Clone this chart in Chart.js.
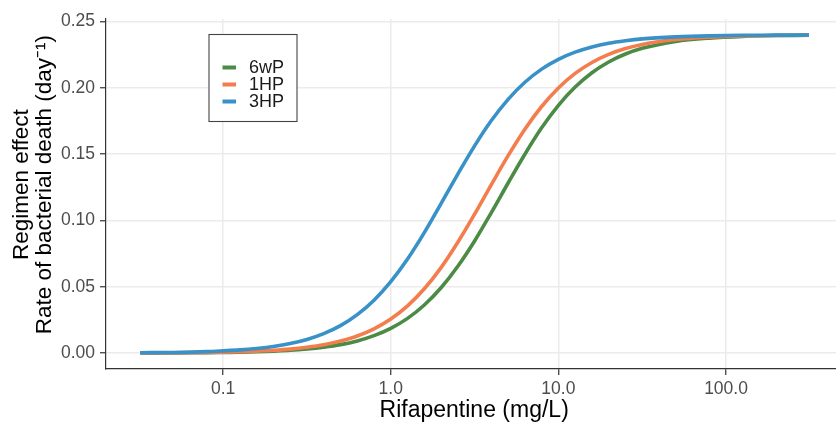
<!DOCTYPE html>
<html>
<head>
<meta charset="utf-8">
<script src="https://cdn.jsdelivr.net/npm/chart.js@4/dist/chart.umd.min.js"></script>
<style>
  html, body { margin: 0; padding: 0; background: #ffffff; }
  #wrap { width: 836px; height: 424px; position: relative; overflow: hidden; }
</style>
</head>
<body>
<div id="wrap"><canvas id="c" width="836" height="424"></canvas></div>
<script>
// ---- data ----
const conc = [0.032, 0.0501, 0.0794, 0.1, 0.1259, 0.1585, 0.1995, 0.2512, 0.3162, 0.3981, 0.5012, 0.631, 0.7943, 1.0, 1.259, 1.585, 1.995, 2.512, 3.162, 3.981, 5.012, 6.31, 7.943, 10.0, 12.59, 15.85, 19.95, 25.12, 31.62, 50.12, 79.43, 125.9, 199.5, 312.6];
const effect6wP = [0.0001, 0.0002, 0.0003, 0.0005, 0.0007, 0.0010, 0.0015, 0.0021, 0.0031, 0.0045, 0.0064, 0.0092, 0.0132, 0.0187, 0.0262, 0.0363, 0.0493, 0.0655, 0.0846, 0.1060, 0.1283, 0.1500, 0.1699, 0.1869, 0.2007, 0.2115, 0.2196, 0.2256, 0.2299, 0.2351, 0.2376, 0.2389, 0.2395, 0.2397];
const effect1HP = [0.0001, 0.0002, 0.0005, 0.0007, 0.0010, 0.0015, 0.0021, 0.0030, 0.0044, 0.0063, 0.0091, 0.0129, 0.0183, 0.0257, 0.0356, 0.0485, 0.0645, 0.0836, 0.1048, 0.1271, 0.1489, 0.1689, 0.1860, 0.2000, 0.2110, 0.2192, 0.2253, 0.2297, 0.2328, 0.2365, 0.2383, 0.2392, 0.2396, 0.2398];
const effect3HP = [0.0003, 0.0005, 0.0011, 0.0017, 0.0024, 0.0035, 0.0050, 0.0072, 0.0103, 0.0147, 0.0207, 0.0290, 0.0399, 0.0539, 0.0710, 0.0909, 0.1128, 0.1350, 0.1563, 0.1754, 0.1914, 0.2043, 0.2142, 0.2216, 0.2270, 0.2309, 0.2337, 0.2356, 0.2370, 0.2385, 0.2393, 0.2397, 0.2398, 0.2399];
const seriesNames = ['6wP', '1HP', '3HP'];
const xTicks = [0.1, 1, 10, 100];
const xTickLabels = ['0.1', '1.0', '10.0', '100.0'];
const yTicks = [0, 0.05, 0.10, 0.15, 0.20, 0.25];
const yTickLabels = ['0.00', '0.05', '0.10', '0.15', '0.20', '0.25'];

const colors = ['#4b8b45', '#f47d4d', '#3891c7'];
const seriesValues = [effect6wP, effect1HP, effect3HP];

Chart.defaults.font.family = '"Liberation Sans", Arial, Helvetica, sans-serif';

const datasets = seriesValues.map((vals, i) => ({
  label: seriesNames[i],
  data: conc.map((c, k) => ({ x: c, y: vals[k] })),
  borderColor: colors[i],
  backgroundColor: colors[i],
  borderWidth: 3.6,
  pointRadius: 0,
  fill: false,
  cubicInterpolationMode: 'monotone',
  order: 2 - i
}));

const boxLegend = {
  id: 'boxLegend',
  afterDraw(chart) {
    const ctx = chart.ctx;
    const a = chart.chartArea;
    const bx = a.left + 103, by = a.top + 15.5, bw = 88, bh = 87;
    ctx.save();
    ctx.fillStyle = '#ffffff';
    ctx.fillRect(bx, by, bw, bh);
    ctx.strokeStyle = '#444444';
    ctx.lineWidth = 1.1;
    ctx.strokeRect(bx, by, bw, bh);
    ctx.font = '18px "Liberation Sans", Arial, sans-serif';
    ctx.textBaseline = 'middle';
    ctx.textAlign = 'left';
    chart.data.datasets.forEach((ds, i) => {
      const cy = by + 33 + i * 17;
      ctx.strokeStyle = ds.borderColor;
      ctx.lineWidth = 4;
      ctx.beginPath();
      ctx.moveTo(bx + 13.5, cy);
      ctx.lineTo(bx + 27, cy);
      ctx.stroke();
      ctx.fillStyle = '#1a1a1a';
      ctx.fillText(ds.label, bx + 40, cy + 0.5);
    });
    ctx.restore();
  }
};

new Chart(document.getElementById('c'), {
  type: 'line',
  data: { datasets },
  options: {
    responsive: false,
    animation: false,
    devicePixelRatio: 1,
    layout: { padding: { top: 19, right: 0, left: 0, bottom: 0 } },
    plugins: { legend: { display: false }, tooltip: { enabled: false } },
    scales: {
      x: {
        type: 'logarithmic',
        min: 0.02,
        max: 453,
        afterFit: s => { s.height = 55; },
        afterBuildTicks: s => { s.ticks = xTicks.map(v => ({ value: v, major: true })); },
        ticks: {
          autoSkip: false,
          maxRotation: 0,
          padding: 4,
          color: '#4d4d4d',
          font: { size: 17.5 },
          callback: (v) => { const k = xTicks.indexOf(v); return k >= 0 ? xTickLabels[k] : ''; }
        },
        grid: { color: '#ebebeb', lineWidth: 1.5, tickLength: 6, tickColor: '#333333', tickWidth: 1.2, drawTicks: true },
        border: { display: true, color: '#333333', width: 1.2 },
        title: { display: true, text: ' Rifapentine (mg/L)', color: '#000000', font: { size: 23, lineHeight: 1.1 }, padding: { top: 0, bottom: 1 } }
      },
      y: {
        type: 'linear',
        min: -0.012,
        max: 0.252,
        afterFit: s => { s.width = 106; },
        afterBuildTicks: s => { s.ticks = yTicks.map(v => ({ value: v })); },
        ticks: {
          padding: 5,
          color: '#4d4d4d',
          font: { size: 17.5 },
          callback: (v) => { const k = yTicks.findIndex(t => Math.abs(t - v) < 1e-9); return k >= 0 ? yTickLabels[k] : ''; }
        },
        grid: { color: '#ebebeb', lineWidth: 1.5, tickLength: 6, tickColor: '#333333', tickWidth: 1.2, drawTicks: true },
        border: { display: true, color: '#333333', width: 1.2 },
        title: { display: true, text: ['   Regimen effect', '   Rate of bacterial death (day\u207B\u00B9)'], color: '#000000', font: { size: 22.5, lineHeight: 1.03 }, padding: { top: 10, bottom: 0 } }
      }
    }
  },
  plugins: [boxLegend]
});
</script>
</body>
</html>
